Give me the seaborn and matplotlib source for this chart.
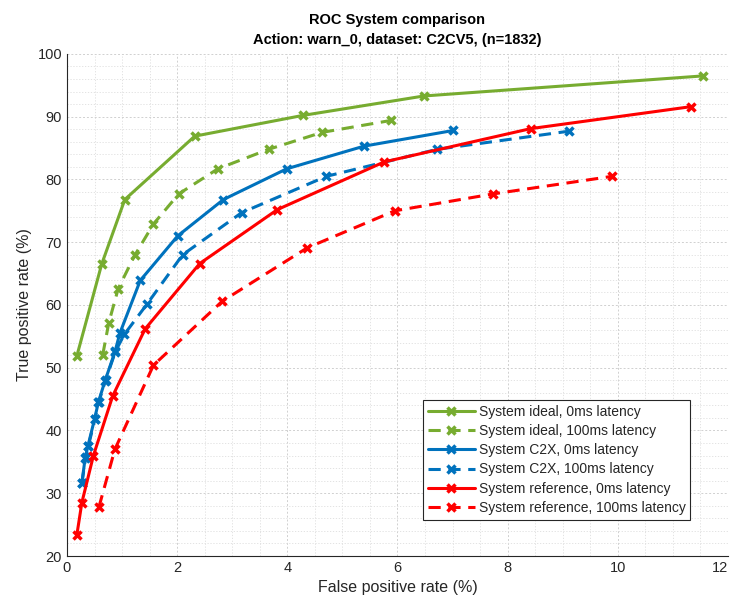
import numpy as np
import pandas as pd
import matplotlib
matplotlib.use("Agg")
import matplotlib.pyplot as plt
import seaborn as sns
from matplotlib.ticker import MultipleLocator

# ROC points (FPR %, TPR %)
ideal_0_fpr = [0.18, 0.63, 1.05, 2.32, 4.28, 6.48, 11.55]
ideal_0_tpr = [51.9, 66.5, 76.8, 86.9, 90.2, 93.3, 96.5]

ideal_100_fpr = [0.65, 0.76, 0.93, 1.23, 1.57, 2.03, 2.74, 3.66, 4.63, 5.88]
ideal_100_tpr = [52.1, 57.2, 62.6, 67.9, 72.9, 77.7, 81.7, 84.8, 87.5, 89.4]

c2x_0_fpr = [0.27, 0.33, 0.38, 0.50, 0.57, 0.69, 0.87, 0.96, 1.33, 2.01, 2.84, 3.99, 5.39, 7.01]
c2x_0_tpr = [31.6, 35.6, 37.5, 41.8, 44.5, 47.9, 52.5, 55.5, 63.9, 71.0, 76.8, 81.7, 85.3, 87.8]

c2x_100_fpr = [0.27, 0.34, 0.39, 0.51, 0.58, 0.70, 0.88, 1.04, 1.45, 2.10, 3.17, 4.71, 6.72, 9.12]
c2x_100_tpr = [31.6, 35.7, 37.6, 41.9, 44.6, 48.0, 52.6, 55.3, 60.1, 68.0, 74.7, 80.5, 84.8, 87.7]

ref_0_fpr = [0.18, 0.27, 0.48, 0.83, 1.42, 2.41, 3.82, 5.76, 8.42, 11.33]
ref_0_tpr = [23.4, 28.5, 36.0, 45.5, 56.2, 66.6, 75.2, 82.8, 88.1, 91.6]

ref_100_fpr = [0.58, 0.87, 1.57, 2.82, 4.36, 5.95, 7.74, 9.90]
ref_100_tpr = [27.8, 37.0, 50.4, 60.6, 69.1, 75.0, 77.7, 80.5]

xticks = [0, 2, 4, 6, 8, 10, 12]
yticks = [20, 30, 40, 50, 60, 70, 80, 90, 100]

green = "#77AC30"
blue = "#0072BD"
red = "#FF0000"

series = [
    ("System ideal, 0ms latency", ideal_0_fpr, ideal_0_tpr, green, "-"),
    ("System ideal, 100ms latency", ideal_100_fpr, ideal_100_tpr, green, (0, (4, 2.5))),
    ("System C2X, 0ms latency", c2x_0_fpr, c2x_0_tpr, blue, "-"),
    ("System C2X, 100ms latency", c2x_100_fpr, c2x_100_tpr, blue, (0, (4, 2.5))),
    ("System reference, 0ms latency", ref_0_fpr, ref_0_tpr, red, "-"),
    ("System reference, 100ms latency", ref_100_fpr, ref_100_tpr, red, (0, (4, 2.5))),
]

sns.set_style("white")
plt.rcParams["font.family"] = ["Liberation Sans", "DejaVu Sans"]

fig = plt.figure(figsize=(7.32, 6.06), dpi=100)
ax = fig.add_axes([0.0915, 0.0825, 0.903, 0.8285])

for name, fpr, tpr, col, ls in series:
    df = pd.DataFrame({"fpr": fpr, "tpr": tpr})
    sns.lineplot(data=df, x="fpr", y="tpr", ax=ax, color=col, linestyle=ls,
                 linewidth=2.2, marker="x", markersize=6, markeredgewidth=2.5,
                 markeredgecolor=col, label=name, estimator=None, sort=False)

ax.set_xlim(0, 12)
ax.set_ylim(20, 100)
ax.set_xticks(xticks)
ax.set_yticks(yticks)
ax.set_xticklabels([str(t) for t in xticks])
ax.xaxis.set_minor_locator(MultipleLocator(0.5))
ax.yaxis.set_minor_locator(MultipleLocator(2))

ax.grid(which="major", color="#d0d0d0", linestyle=(0, (2, 2)), linewidth=0.7)
ax.grid(which="minor", color="#dedede", linestyle=(0, (1.5, 2)), linewidth=0.6)
ax.set_axisbelow(True)

for s in ["top", "right"]:
    ax.spines[s].set_visible(False)
for s in ["left", "bottom"]:
    ax.spines[s].set_color("#262626")
    ax.spines[s].set_linewidth(0.8)

ax.tick_params(which="major", direction="in", length=5, width=0.8, colors="#262626",
               labelsize=10.5, labelcolor="#262626")
ax.tick_params(which="minor", length=0)

# keep the last x tick label inside the figure, as in the reference
for lab in ax.get_xticklabels():
    if lab.get_text() == "12":
        lab.set_horizontalalignment("right")

ax.set_xlabel("False positive rate (%)", fontsize=11.5, color="#262626")
ax.set_ylabel("True positive rate (%)", fontsize=11.5, color="#262626")
ax.set_title("ROC System comparison\nAction: warn_0, dataset: C2CV5, (n=1832)",
             fontsize=10.5, fontweight="bold", color="black", pad=7, linespacing=1.55)

leg = ax.legend(loc="lower right", bbox_to_anchor=(0.943, 0.072), borderaxespad=0,
                fontsize=10, frameon=True, fancybox=False, framealpha=1,
                edgecolor="#262626", handlelength=3.4, labelspacing=0.38,
                borderpad=0.35, handletextpad=0.25, numpoints=1)
leg.get_frame().set_linewidth(0.8)

fig.savefig("out.png", dpi=100)
